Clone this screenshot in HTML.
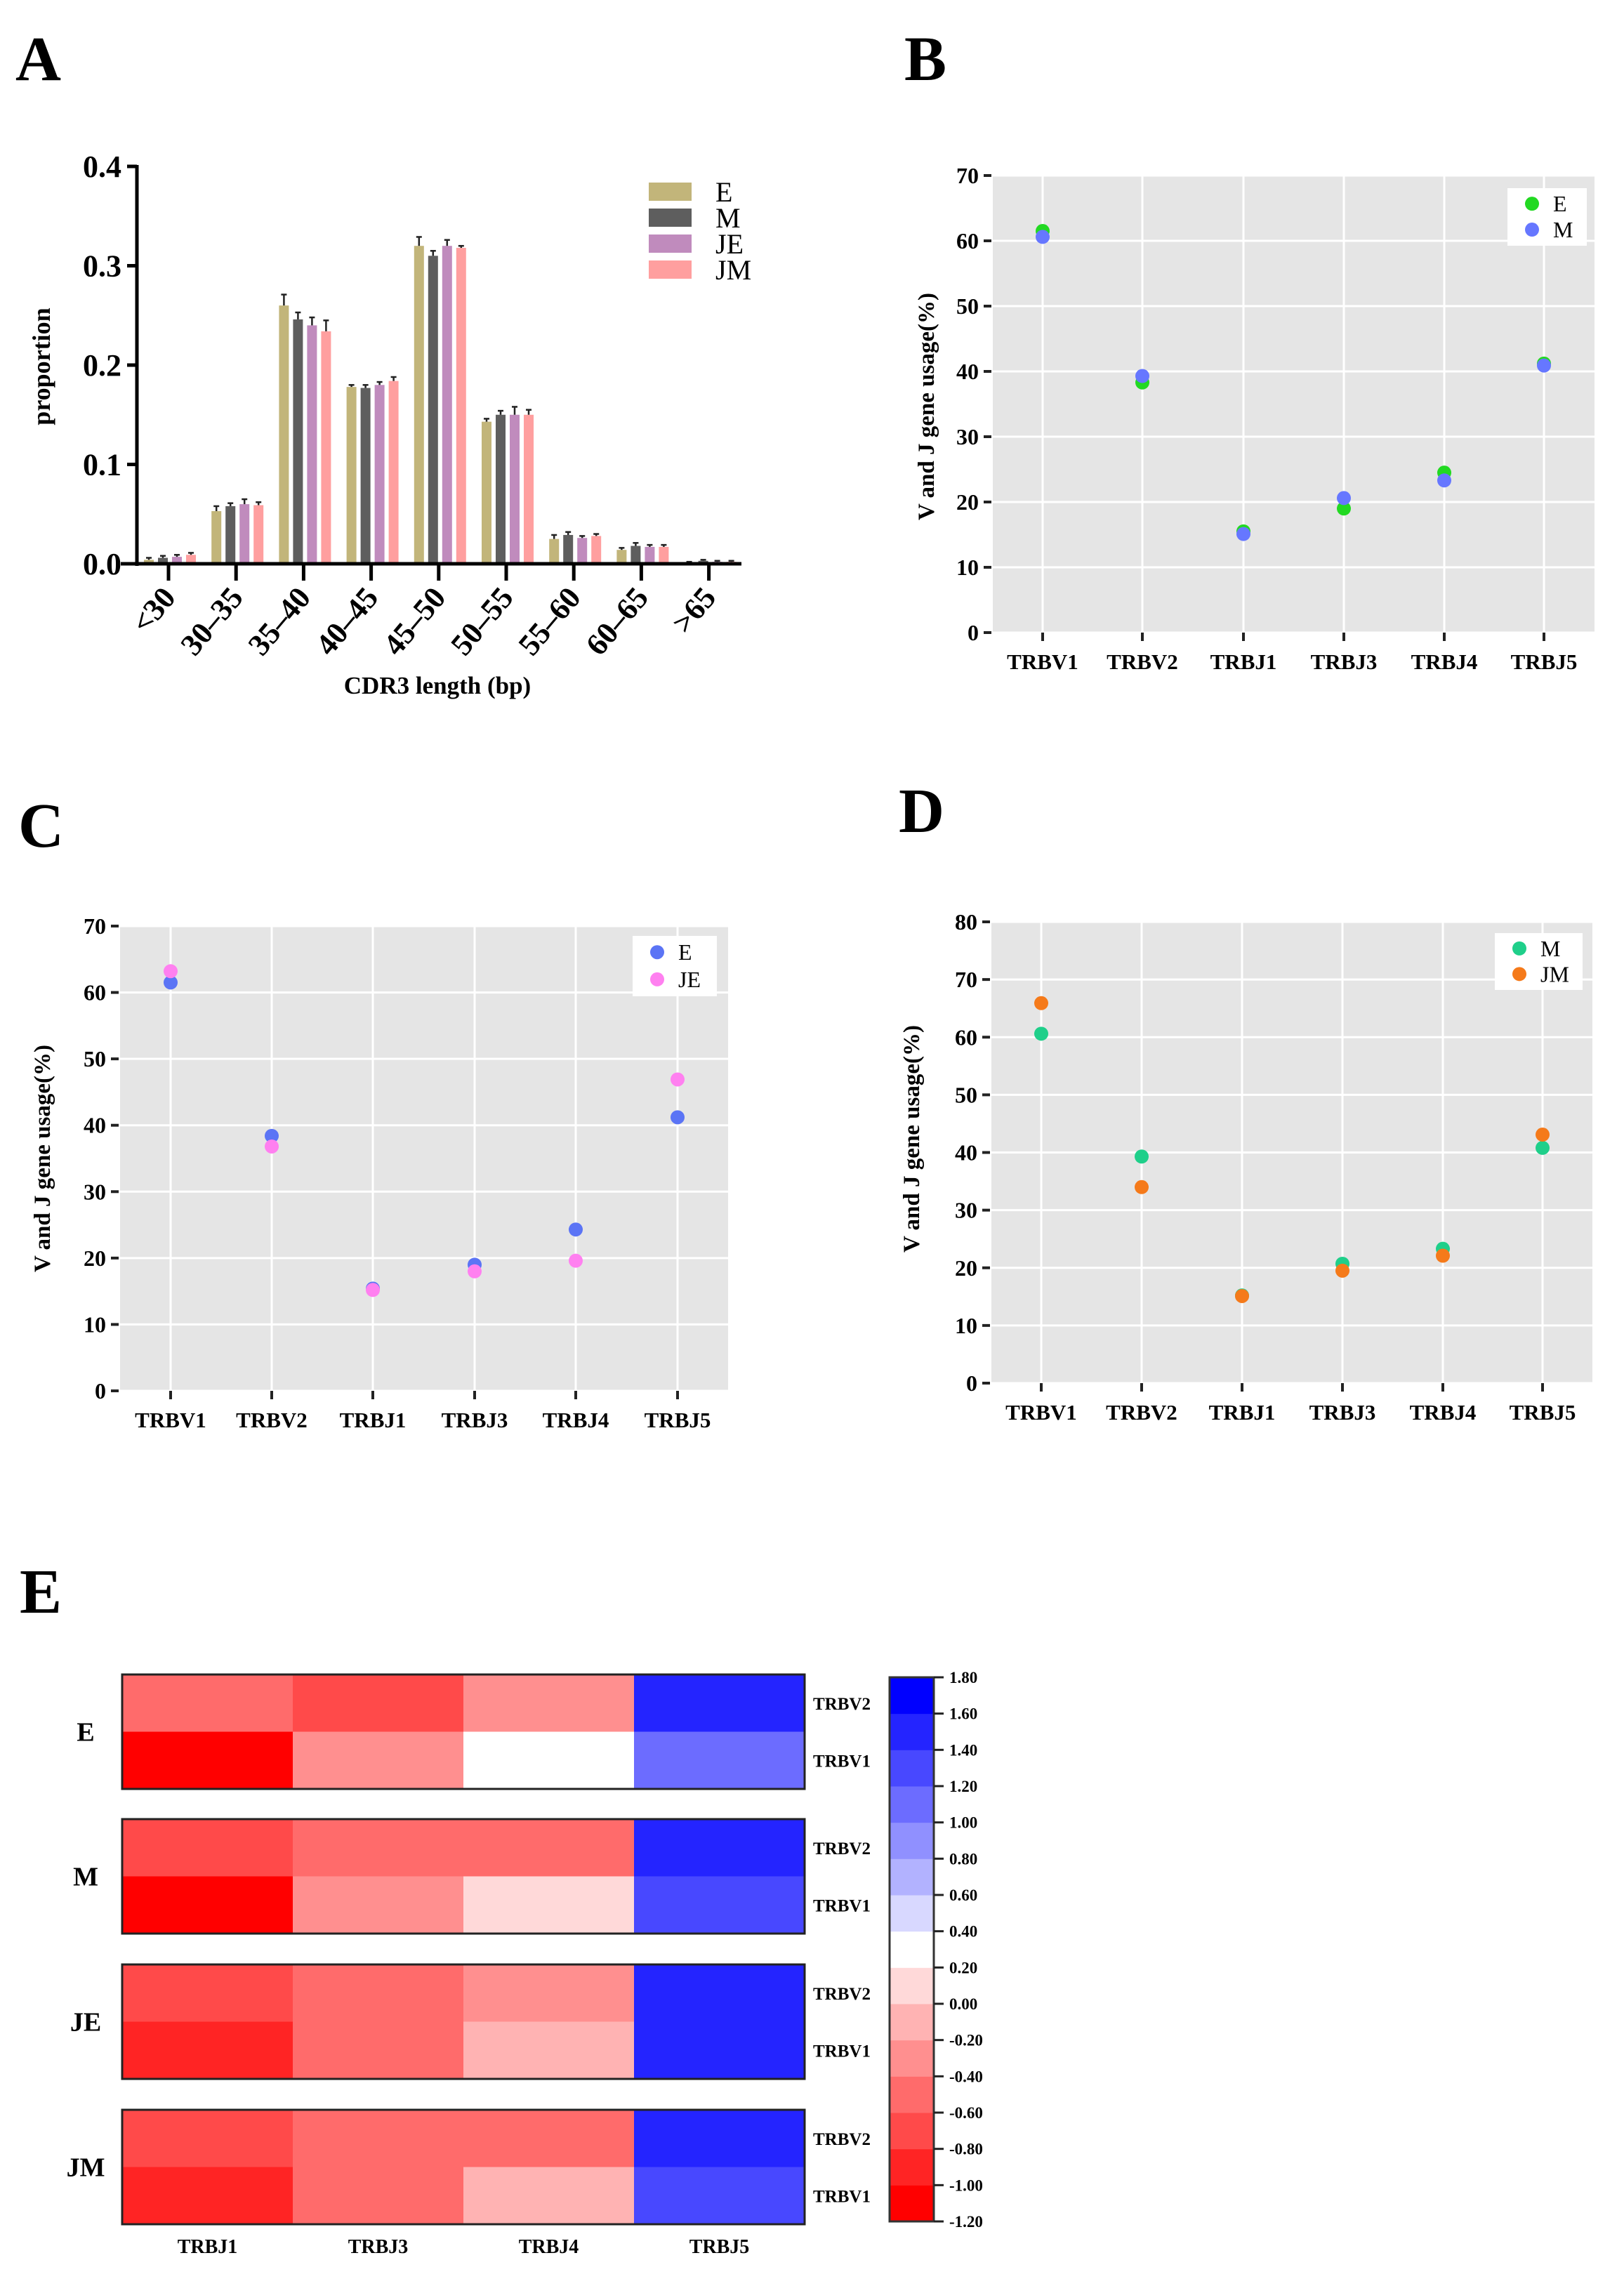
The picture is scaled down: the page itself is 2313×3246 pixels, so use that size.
<!DOCTYPE html>
<html><head><meta charset="utf-8">
<style>
html,body{margin:0;padding:0;background:#fff;}
svg{display:block;font-family:"Liberation Serif",serif;}
.b{font-weight:bold;}
</style></head>
<body>
<svg id="fig" width="2313" height="3246" viewBox="0 0 2313 3246" xmlns="http://www.w3.org/2000/svg">
<rect width="2313" height="3246" fill="#fff"/>
<text x="22" y="114" font-size="90" class="b">A</text>
<text x="1288" y="114" font-size="90" class="b">B</text>
<text x="26" y="1206" font-size="90" class="b">C</text>
<text x="1280" y="1185" font-size="90" class="b">D</text>
<text x="28" y="2297" font-size="90" class="b">E</text>
<g id="gA"></g>
<g id="gB"></g>
<g id="gC"></g>
<g id="gD"></g>
<g id="gE"></g>
</svg>
<script>
// ---------- Panel A data ----------
const aCategories = ["<30","30\u201335","35\u201340","40\u201345","45\u201350","50\u201355","55\u201360","60\u201365",">65"];
const aSeriesNames = ["E","M","JE","JM"];
const aE  = [0.004,0.053,0.260,0.178,0.320,0.143,0.025,0.014,0.001];
const aM  = [0.006,0.058,0.246,0.177,0.310,0.150,0.029,0.018,0.003];
const aJE = [0.007,0.060,0.240,0.180,0.320,0.150,0.026,0.017,0.002];
const aJM = [0.009,0.059,0.234,0.184,0.318,0.150,0.028,0.017,0.002];
const aErrE  = [0.002,0.005,0.011,0.002,0.009,0.003,0.004,0.002,0.001];
const aErrM  = [0.002,0.003,0.007,0.003,0.005,0.004,0.003,0.003,0.001];
const aErrJE = [0.002,0.005,0.008,0.003,0.006,0.008,0.002,0.002,0.001];
const aErrJM = [0.002,0.003,0.011,0.004,0.002,0.005,0.002,0.002,0.001];
const aTicks = [0.0,0.1,0.2,0.3,0.4];
// ---------- Scatter data ----------
const genes = ["TRBV1","TRBV2","TRBJ1","TRBJ3","TRBJ4","TRBJ5"];
const bE  = [61.5,38.3,15.5,19.0,24.5,41.2];
const bM  = [60.6,39.3,15.1,20.6,23.3,40.9];
const cE  = [61.5,38.4,15.4,19.0,24.3,41.2];
const cJE = [63.2,36.8,15.2,18.0,19.6,46.9];
const dM  = [60.6,39.3,15.2,20.7,23.3,40.8];
const dJM = [65.9,34.0,15.1,19.5,22.1,43.1];
const ticks70 = [0,10,20,30,40,50,60,70];
const ticks80 = [0,10,20,30,40,50,60,70,80];
// ---------- Heatmap data ----------
const hGroups = ["E","M","JE","JM"];
const hRows = ["TRBV2","TRBV1"];
const hCols = ["TRBJ1","TRBJ3","TRBJ4","TRBJ5"];
const hE_V2 = [-0.5,-0.7,-0.3,1.5];
const hE_V1 = [-1.1,-0.3,0.3,1.1];
const hM_V2 = [-0.7,-0.5,-0.5,1.5];
const hM_V1 = [-1.1,-0.3,0.1,1.3];
const hJE_V2 = [-0.7,-0.5,-0.3,1.5];
const hJE_V1 = [-0.9,-0.5,-0.1,1.5];
const hJM_V2 = [-0.7,-0.5,-0.5,1.5];
const hJM_V1 = [-0.9,-0.5,-0.1,1.3];
const cbTicks = [1.8,1.6,1.4,1.2,1.0,0.8,0.6,0.4,0.2,0.0,-0.2,-0.4,-0.6,-0.8,-1.0,-1.2];

const NS="http://www.w3.org/2000/svg";
function mk(parent,tag,attrs,text){const e=document.createElementNS(NS,tag);for(const k in attrs)e.setAttribute(k,attrs[k]);if(text!==undefined)e.textContent=text;parent.appendChild(e);return e;}

// ---------- Panel A ----------
(function(){
  const g=document.getElementById('gA');
  const x0=195,y0=803,yTop=237,xEnd=1056;
  const yS=v=>y0-(v/0.4)*(y0-yTop);
  const xS=i=>240+i*96.2;
  const series=[aE,aM,aJE,aJM], errs=[aErrE,aErrM,aErrJE,aErrJM];
  const colors=["#c2b57a","#5e5e5e","#c08bbd","#ff9f9f"];
  const offs=[-28,-8,12,32];
  series.forEach((s,si)=>{s.forEach((v,i)=>{
    const cx=xS(i)+offs[si];
    const r=mk(g,'rect',{x:cx-7,y:yS(v),width:14,height:y0-yS(v),fill:colors[si]});
    
    
    const ye=yS(v+errs[si][i]);
    mk(g,'line',{x1:cx,x2:cx,y1:yS(v),y2:ye,stroke:'#222','stroke-width':2.5});
    mk(g,'line',{x1:cx-4,x2:cx+4,y1:ye,y2:ye,stroke:'#222','stroke-width':2.5});
  });});
  mk(g,'line',{x1:x0,x2:x0,y1:yTop-2,y2:y0+3,stroke:'#000','stroke-width':5});
  mk(g,'line',{x1:172,x2:xEnd,y1:y0,y2:y0,stroke:'#000','stroke-width':5});
  aTicks.forEach(t=>{
    mk(g,'line',{x1:x0-14,x2:x0,y1:yS(t),y2:yS(t),stroke:'#000','stroke-width':5});
    const tl=mk(g,'text',{x:x0-22,y:yS(t)+15,'font-size':44,'font-weight':'bold','text-anchor':'end'},t.toFixed(1));
    
    
  });
  aCategories.forEach((c,i)=>{
    const x=xS(i);
    mk(g,'line',{x1:x,x2:x,y1:y0,y2:827,stroke:'#000','stroke-width':5});
    const lx=x+12, ly=852;
    const t=mk(g,'text',{x:lx,y:ly,'font-size':44,'font-weight':'bold','text-anchor':'end',transform:`rotate(-50 ${lx} ${ly})`},c);
    
    
  });
  const yl=mk(g,'text',{x:0,y:0,'font-size':36,'font-weight':'bold','text-anchor':'middle',transform:'translate(71 522) rotate(-90)'},'proportion');
  
  
  const xl=mk(g,'text',{x:623,y:988,'font-size':35,'font-weight':'bold','text-anchor':'middle'},'CDR3 length (bp)');
  
  
  const legY=[273,310,347,384];
  aSeriesNames.forEach((n,i)=>{
    const sw=mk(g,'rect',{x:924,y:legY[i]-13,width:61,height:26,fill:colors[i]});
    
    
    const lt=mk(g,'text',{x:1019,y:legY[i]+14,'font-size':40},n);
    
    
  });
})();

// ---------- Scatter panels ----------
function scatter(id,cfg){
  const g=document.getElementById(id);
  const {L,R,T,B,ymax,ticks,xs,s1,s2,c1,c2,n1,n2,leg,ylab}=cfg;
  const yS=v=>B-(v/ymax)*(B-T);
  mk(g,'rect',{x:L,y:T,width:R-L,height:B-T,fill:'#e5e5e5'});
  ticks.forEach(t=>{
    mk(g,'line',{x1:L,x2:R,y1:yS(t),y2:yS(t),stroke:'#fff','stroke-width':3});
    mk(g,'line',{x1:L-13,x2:L-2,y1:yS(t),y2:yS(t),stroke:'#222','stroke-width':4});
    const tl=mk(g,'text',{x:L-20,y:yS(t)+11,'font-size':32,'font-weight':'bold','text-anchor':'end'},String(t));
    
    
  });
  genes.forEach((gn,i)=>{
    const x=xs[i];
    mk(g,'line',{x1:x,x2:x,y1:T,y2:B,stroke:'#fff','stroke-width':3});
    mk(g,'line',{x1:x,x2:x,y1:B,y2:B+12,stroke:'#222','stroke-width':4});
    const tl=mk(g,'text',{x:x,y:B+52,'font-size':31,'font-weight':'bold','text-anchor':'middle'},gn);
    
    
  });
  s1.forEach((v,i)=>{const c=mk(g,'circle',{cx:xs[i],cy:yS(v),r:10,fill:c1});
    
    });
  s2.forEach((v,i)=>{const c=mk(g,'circle',{cx:xs[i],cy:yS(v),r:10,fill:c2});
    
    });
  const lb=mk(g,'rect',{x:leg[0],y:leg[1],width:leg[2],height:leg[3],fill:'#fff'});
  
  
  const h=leg[3];
  mk(g,'circle',{cx:leg[0]+35,cy:leg[1]+h*0.27,r:10,fill:c1});
  mk(g,'circle',{cx:leg[0]+35,cy:leg[1]+h*0.72,r:10,fill:c2});
  const t1=mk(g,'text',{x:leg[0]+65,y:leg[1]+h*0.27+11,'font-size':32},n1);
  
  
  const t2=mk(g,'text',{x:leg[0]+65,y:leg[1]+h*0.72+11,'font-size':32},n2);
  
  
  const yl=mk(g,'text',{x:0,y:0,'font-size':33,'font-weight':'bold','text-anchor':'middle',transform:`translate(${ylab[0]} ${ylab[1]}) rotate(-90)`},'V and J gene usage(%)');
  
  
}
scatter('gB',{L:1414,R:2271,T:250,B:901,ymax:70,ticks:ticks70,xs:[1485,1627,1771,1914,2057,2199],s1:bE,s2:bM,c1:'#22d922',c2:'#6677ff',n1:'E',n2:'M',leg:[2147,268,113,82],ylab:[1330,579]});
scatter('gC',{L:171,R:1037,T:1319,B:1981,ymax:70,ticks:ticks70,xs:[243,387,531,676,820,965],s1:cE,s2:cJE,c1:'#5b74f5',c2:'#ff80f0',n1:'E',n2:'JE',leg:[901,1333,120,86],ylab:[71,1650]});
scatter('gD',{L:1412,R:2268,T:1313,B:1970,ymax:80,ticks:ticks80,xs:[1483,1626,1769,1912,2055,2197],s1:dM,s2:dJM,c1:'#1fcf8a',c2:'#f57a1a',n1:'M',n2:'JM',leg:[2129,1329,125,81],ylab:[1309,1622]});

// ---------- Panel E heatmap ----------
(function(){
  const g=document.getElementById('gE');
  const binColors=["#ff0000","#ff2424","#ff4a4a","#ff6b6b","#ff8f8f","#ffb3b3","#ffd9d9","#ffffff","#d8d8ff","#b2b2ff","#9090ff","#6c6cff","#4848ff","#2424ff","#0000ff"];
  const col=v=>{let k=Math.floor((v+1.2)/0.2);k=Math.max(0,Math.min(14,k));return binColors[k];};
  const data=[[hE_V2,hE_V1],[hM_V2,hM_V1],[hJE_V2,hJE_V1],[hJM_V2,hJM_V1]];
  const L=174,cw=243,rh=81.5,blockTop=[2385,2591,2798,3005];
  data.forEach((blk,bi)=>{
    const top=blockTop[bi];
    blk.forEach((row,ri)=>{row.forEach((v,ci)=>{
      const r=mk(g,'rect',{x:L+ci*cw,y:top+ri*rh,width:cw+0.5,height:rh+0.5,fill:col(v)});
      
      
      });
      const rl=mk(g,'text',{x:1158,y:top+ri*rh+rh/2+9,'font-size':25,'font-weight':'bold'},hRows[ri]);
      
      
    });
    mk(g,'rect',{x:L,y:top,width:cw*4,height:rh*2,fill:'none',stroke:'#222','stroke-width':3});
    const gl=mk(g,'text',{x:122,y:top+rh+13,'font-size':38,'font-weight':'bold','text-anchor':'middle'},hGroups[bi]);
    
    
  });
  hCols.forEach((c,i)=>{
    const t=mk(g,'text',{x:L+cw*i+cw/2,y:3209,'font-size':28,'font-weight':'bold','text-anchor':'middle'},c);
    
    
  });
  // colorbar
  const cbL=1267,cbR=1330,cbT=2389,cbB=3164;
  const cy=v=>cbT+(1.8-v)/3.0*(cbB-cbT);
  binColors.forEach((c,k)=>{
    const lo=-1.2+k*0.2;
    mk(g,'rect',{x:cbL,y:cy(lo+0.2),width:cbR-cbL,height:cy(lo)-cy(lo+0.2)+0.5,fill:c});
  });
  const cb=mk(g,'rect',{x:cbL,y:cbT,width:cbR-cbL,height:cbB-cbT,fill:'none',stroke:'#333','stroke-width':3});
  
  
  cbTicks.forEach(t=>{
    mk(g,'line',{x1:cbR,x2:cbR+14,y1:cy(t),y2:cy(t),stroke:'#222','stroke-width':3});
    const tl=mk(g,'text',{x:cbR+22,y:cy(t)+8,'font-size':23,'font-weight':'bold'},(t<0?'-':'')+Math.abs(t).toFixed(2));
    
    
  });
})();
</script>
</body></html>
